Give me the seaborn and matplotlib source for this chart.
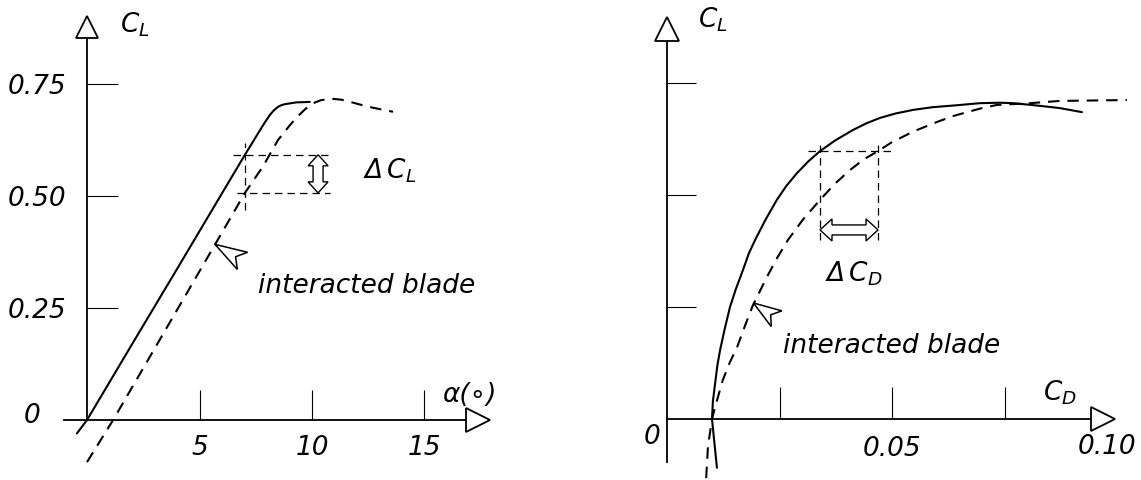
import numpy as np
import pandas as pd
import matplotlib
matplotlib.use("Agg")
import matplotlib.pyplot as plt
import seaborn as sns
from matplotlib.patches import Polygon
from matplotlib.transforms import IdentityTransform

# ---- Lift curve C_L(alpha), alpha in degrees ----
alpha_clean = [-0.45, 0.0, 2.0, 4.0, 6.0, 7.02, 7.69, 7.9, 8.13, 8.3, 8.49, 8.65, 8.8, 9.3, 9.9]
cl_alpha_clean = [-0.03, 0.0, 0.169, 0.337, 0.506, 0.592, 0.647, 0.664, 0.681, 0.691, 0.699, 0.703,
                  0.705, 0.709, 0.710]
alpha_inter = [0.0, 1.16, 3.0, 5.0, 6.49, 7.02, 7.82, 8.49, 9.0, 9.33, 9.7, 10.0, 10.4, 10.9,
               11.3, 11.7, 12.0, 12.44, 13.0, 13.6]
cl_alpha_inter = [-0.094, 0.0, 0.159, 0.332, 0.461, 0.507, 0.566, 0.625, 0.657, 0.676, 0.694,
                  0.706, 0.714, 0.717, 0.715, 0.710, 0.706, 0.700, 0.694, 0.688]

# ---- Drag polar C_L(C_D) ----
cd_clean = [0.0111, 0.0105, 0.0100, 0.0102, 0.0107, 0.0112, 0.0118, 0.0128, 0.0140, 0.0153,
            0.0169, 0.0182, 0.0196, 0.0219, 0.0244, 0.0265, 0.0289, 0.0314, 0.0340, 0.0374,
            0.0413, 0.0443, 0.0473, 0.0508, 0.0547, 0.0590, 0.0640, 0.0696, 0.0740, 0.0769,
            0.0800, 0.0829, 0.0873, 0.0922]
cl_cd_clean = [-0.109, -0.050, 0.0, 0.040, 0.080, 0.120, 0.154, 0.200, 0.250, 0.290,
               0.333, 0.370, 0.400, 0.445, 0.489, 0.520, 0.549, 0.575, 0.598, 0.622,
               0.645, 0.660, 0.672, 0.682, 0.690, 0.696, 0.700, 0.705, 0.706, 0.705,
               0.702, 0.699, 0.694, 0.685]
cd_inter = [0.0087, 0.0091, 0.0100, 0.0107, 0.0124, 0.0139, 0.0156, 0.0174, 0.0191, 0.0222,
            0.0245, 0.0269, 0.0302, 0.0340, 0.0373, 0.0407, 0.0438, 0.0469, 0.0500, 0.0548,
            0.0600, 0.0635, 0.0667, 0.0700, 0.0733, 0.0807, 0.0873, 0.1022]
cl_cd_inter = [-0.132, -0.062, 0.0, 0.027, 0.087, 0.125, 0.161, 0.210, 0.254, 0.317,
               0.360, 0.400, 0.445, 0.489, 0.525, 0.556, 0.580, 0.598, 0.618, 0.642,
               0.663, 0.676, 0.685, 0.694, 0.701, 0.705, 0.710, 0.712]

# Ticks
alpha_ticks = [5, 10, 15]
alpha_tick_labels = ["5", "10", "15"]
cl_ticks = [0.25, 0.50, 0.75]
cl_tick_labels = ["0.25", "0.50", "0.75"]
cd_ticks = [0.025, 0.05, 0.075]
cd_tick_labels = ["", "0.05", ""]

# Read-off points for the Delta annotations
alpha_probe = 7.02
cl_probe_clean, cl_probe_inter = 0.592, 0.507
cl_probe = 0.598
cd_probe_clean, cd_probe_inter = 0.0340, 0.0469

sns.set_theme(style="white")
plt.rcParams["font.family"] = ["DejaVu Sans"]
plt.rcParams["font.style"] = "italic"
plt.rcParams["mathtext.fontset"] = "dejavusans"

W, H = 1141, 480
fig = plt.figure(figsize=(W / 100, H / 100), dpi=100)
fig.patch.set_facecolor("white")
ax1 = fig.add_axes([0, 0, 570 / W, 1])
ax2 = fig.add_axes([570 / W, 0, 1 - 570 / W, 1])

ax1.set_xlim(-3.867, 21.467)
ax1.set_ylim(-0.1339, 0.9375)
ax2.set_xlim(-0.021556, 0.105333)
ax2.set_ylim(-0.1362, 0.9353)

lift = pd.concat([
    pd.DataFrame({"x": alpha_clean, "y": cl_alpha_clean, "curve": "clean"}),
    pd.DataFrame({"x": alpha_inter, "y": cl_alpha_inter, "curve": "interacted"}),
], ignore_index=True)
polar = pd.concat([
    pd.DataFrame({"x": cd_clean, "y": cl_cd_clean, "curve": "clean"}),
    pd.DataFrame({"x": cd_inter, "y": cl_cd_inter, "curve": "interacted"}),
], ignore_index=True)

dash_map = {"clean": "", "interacted": (5.5, 3.8)}
for ax, df in ((ax1, lift), (ax2, polar)):
    sns.lineplot(data=df, x="x", y="y", style="curve", dashes=dash_map,
                 color="black", linewidth=1.5, sort=False, estimator=None,
                 legend=False, ax=ax, zorder=4)
    for line in ax.get_lines():
        line.set_solid_joinstyle("round")
        line.set_dash_joinstyle("round")
    ax.set_xlabel("")
    ax.set_ylabel("")
    ax.set_facecolor("none")
    ax.grid(False)
    for side in ("top", "right"):
        ax.spines[side].set_visible(False)
    for side in ("left", "bottom"):
        ax.spines[side].set_position(("data", 0))
        ax.spines[side].set_linewidth(1.3)
        ax.spines[side].set_color("black")

# Axis lines with open arrowheads
ax1.spines["left"].set_bounds(0, 0.878)
ax1.spines["bottom"].set_bounds(-1.02, 17.36)
ax2.spines["left"].set_bounds(-0.096, 0.8705)
ax2.spines["bottom"].set_bounds(0, 0.0969)
head_kw = dict(mfc="white", mec="black", mew=1.3, clip_on=False, zorder=6, ls="none")
ax1.plot([0], [0.878], marker="^", ms=16.5, **head_kw)
ax1.plot([17.36], [0], marker=">", ms=17.5, **head_kw)
ax2.plot([0], [0.8705], marker="^", ms=17, **head_kw)
ax2.plot([0.0969], [0], marker=">", ms=17, **head_kw)

ax1.set_xticks(alpha_ticks, labels=alpha_tick_labels)
ax1.set_yticks(cl_ticks, labels=cl_tick_labels)
ax1.tick_params(axis="x", direction="in", length=21.6, width=0.8, pad=10.5,
                labelsize=19, colors="black", bottom=True)
ax1.tick_params(axis="y", direction="in", length=22.3, width=0.8, pad=15,
                labelsize=19, colors="black", left=True)
ax2.set_xticks(cd_ticks, labels=cd_tick_labels)
ax2.set_yticks(cl_ticks, labels=["", "", ""])
ax2.tick_params(axis="x", direction="in", length=23, width=0.8, pad=12.5,
                labelsize=19, colors="black", bottom=True)
ax2.tick_params(axis="y", direction="in", length=21, width=0.8,
                labelsize=19, colors="black", left=True)
for ax in (ax1, ax2):
    for lab in ax.get_xticklabels() + ax.get_yticklabels():
        lab.set_fontstyle("italic")

txt = dict(fontsize=19, color="black", fontstyle="italic")
ax1.text(1.47, 0.866, r"$C_L$", ha="left", va="baseline", **txt)
ax1.text(15.78, 0.040, "α(∘)", ha="left", va="baseline", **txt)
ax1.text(-2.44, 0.009, "0", ha="center", va="center", **txt)
ax1.text(7.6, 0.283, "interacted blade", ha="left", va="baseline", **txt)
ax1.text(12.27, 0.540, r"$\Delta\,C_L$", ha="left", va="baseline", **txt)

ax2.text(0.0069, 0.873, r"$C_L$", ha="left", va="baseline", **txt)
ax2.text(0.0835, 0.042, r"$C_D$", ha="left", va="baseline", **txt)
ax2.text(-0.0033, -0.040, "0", ha="center", va="center", **txt)
ax2.text(0.0978, -0.0625, "0.10", ha="center", va="center", **txt)
ax2.text(0.0258, 0.147, "interacted blade", ha="left", va="baseline", **txt)
ax2.text(0.0351, 0.306, r"$\Delta\,C_D$", ha="left", va="baseline", **txt)

# Read-off guide lines
guide = dict(color="black", lw=0.9, ls=(0, (6, 4)), zorder=3)
ax1.hlines([cl_probe_clean], 6.49, 10.8, **guide)
ax1.hlines([cl_probe_inter], 6.67, 10.8, **guide)
ax1.vlines([alpha_probe], 0.469, 0.618, **guide)
ax2.hlines([cl_probe], 0.0313, 0.0500, **guide)
ax2.vlines([cd_probe_clean, cd_probe_inter], 0.40, 0.623, **guide)


def hollow_double_arrow(ax, p0, p1, head_len, head_half, shaft_half):
    a = ax.transData.transform(p0)
    b = ax.transData.transform(p1)
    u = (b - a) / np.hypot(*(b - a))
    n = np.array([-u[1], u[0]])
    verts = [a, a + u * head_len + n * head_half, a + u * head_len + n * shaft_half,
             b - u * head_len + n * shaft_half, b - u * head_len + n * head_half, b,
             b - u * head_len - n * head_half, b - u * head_len - n * shaft_half,
             a + u * head_len - n * shaft_half, a + u * head_len - n * head_half]
    ax.add_patch(Polygon(verts, closed=True, transform=IdentityTransform(),
                         fc="white", ec="black", lw=1.0, zorder=6, clip_on=False))


def pointer(ax, tip, offset, head_len, half_w, notch):
    t = ax.transData.transform(tip)
    u = np.asarray(offset, float)
    u = u / np.hypot(*u)
    n = np.array([-u[1], u[0]])
    base = t + u * head_len
    verts = [t, base + n * half_w, t + u * (head_len - notch), base - n * half_w]
    ax.add_patch(Polygon(verts, closed=True, transform=IdentityTransform(),
                         fc="white", ec="black", lw=1.1, zorder=6, clip_on=False))


hollow_double_arrow(ax1, (10.27, cl_probe_clean), (10.27, cl_probe_inter), 11, 10, 5)
hollow_double_arrow(ax2, (cd_probe_clean, 0.422), (cd_probe_inter, 0.422), 12, 11, 5)
pointer(ax1, (5.69, 0.392), (27.5, -16.5), 32, 10, 8)
pointer(ax2, (0.0192, 0.259), (23.5, -16), 28, 9.5, 7)

fig.savefig("out.png", dpi=100, facecolor="white")
